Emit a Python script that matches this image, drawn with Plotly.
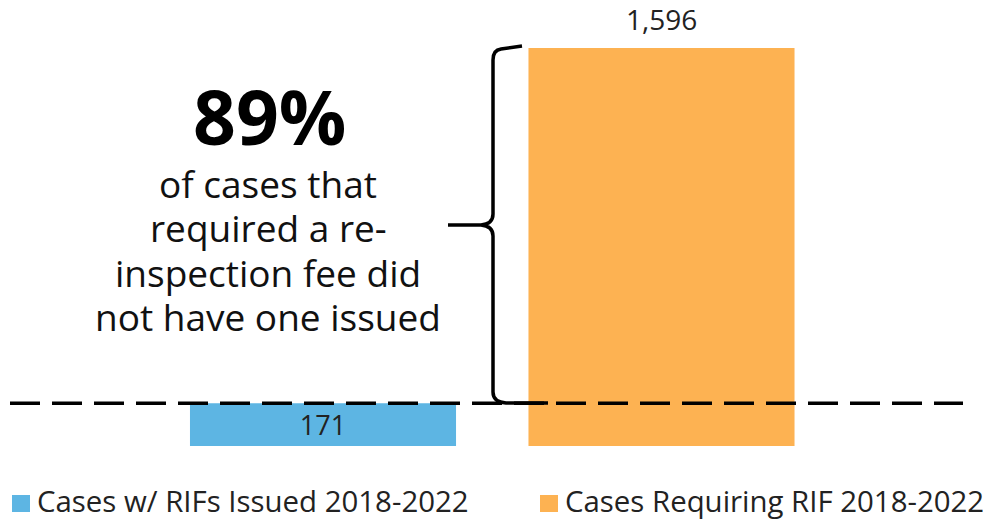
import plotly.graph_objects as go

# ---- data ----
categories = ["Cases w/ RIFs Issued 2018-2022", "Cases Requiring RIF 2018-2022"]
values = [171, 1596]
bar_colors = ["#5DB5E3", "#FDB252"]
headline = "89%"
note_lines = ["of cases that", "required a re-", "inspection fee did", "not have one issued"]

W, H = 983, 512
OFF = 8  # page offset of the figure inside the window
MT, MB = 0, 74
PLOT_H = H - MT - MB
FONT = "Open Sans"

# helpers: window pixel -> paper / data coordinates
def px(x):
    return (x - OFF) / W

def py(y):
    return (PLOT_H - (y - OFF)) / PLOT_H

y_top = 1756.4  # y-range top

def ydata(y):
    return py(y) * y_top

fig = go.Figure()
fig.add_trace(go.Bar(
    x=categories,
    y=values,
    marker=dict(color=bar_colors, line=dict(width=0)),
    texttemplate=["%{y:,}", ""],
    textposition=["inside", "none"],
    insidetextanchor="middle",
    textfont=dict(family=FONT, size=28, color="#222222"),
    cliponaxis=False,
    showlegend=False,
    hoverinfo="skip",
))

shapes = []
# dashed reference line at the level of the smaller bar
shapes.append(dict(type="line", xref="paper", yref="y",
                   x0=px(10), x1=px(963), y0=values[0], y1=values[0],
                   line=dict(color="black", width=3.5, dash="30px,12px")))

# curly brace spanning the gap between the two values
def P(x, y):
    return f"{px(x):.5f},{ydata(y):.3f}"

brace = (f"M{P(522,46)} L{P(501,49)} Q{P(493,50)} {P(493,60)} "
         f"L{P(493,214)} Q{P(493,224)} {P(481,225)} L{P(448,225)} "
         f"M{P(481,225)} Q{P(493,226)} {P(493,236)} "
         f"L{P(493,392)} Q{P(493,402)} {P(506,403)} L{P(548,403)}")
shapes.append(dict(type="path", xref="paper", yref="y", path=brace,
                   line=dict(color="black", width=3.5)))

# legend swatches
legend_x = [12, 540]
for lx, c in zip(legend_x, bar_colors):
    shapes.append(dict(type="rect", xref="paper", yref="paper",
                       x0=px(lx), x1=px(lx + 18), y0=py(512), y1=py(495),
                       fillcolor=c, line=dict(width=0)))

annotations = []
# value label above the taller bar
annotations.append(dict(text=f"{values[1]:,}", x=categories[1], y=values[1],
                        xref="x", yref="y", xanchor="center", yanchor="bottom",
                        yshift=8, showarrow=False,
                        font=dict(family=FONT, size=28, color="#222222")))
annotations.append(dict(text=f"<b>{headline}</b>", xref="paper", yref="paper",
                        x=px(269), y=py(116), xanchor="center", yanchor="middle",
                        showarrow=False, font=dict(family=FONT, size=75, color="black")))
line_y = [183, 227.5, 272, 317]
for t, yy in zip(note_lines, line_y):
    annotations.append(dict(text=t, xref="paper", yref="paper",
                            x=px(268), y=py(yy), xanchor="center", yanchor="middle",
                            showarrow=False, font=dict(family=FONT, size=37, color="#111111")))
for lx, name in zip(legend_x, categories):
    annotations.append(dict(text=name, xref="paper", yref="paper",
                            x=px(lx + 23), y=py(501), xanchor="left", yanchor="middle",
                            showarrow=False, font=dict(family=FONT, size=29.4, color="#222222")))

fig.update_layout(
    width=W, height=H,
    margin=dict(l=0, r=0, t=MT, b=MB, pad=0),
    paper_bgcolor="white", plot_bgcolor="white",
    bargap=0.214,
    xaxis=dict(visible=False, range=[-0.9306, 1 + (W - 653.5) / 338.5], type="category"),
    yaxis=dict(visible=False, range=[0, y_top]),
    shapes=shapes,
    annotations=annotations,
    font=dict(family=FONT),
)

fig.write_html("out.html")
